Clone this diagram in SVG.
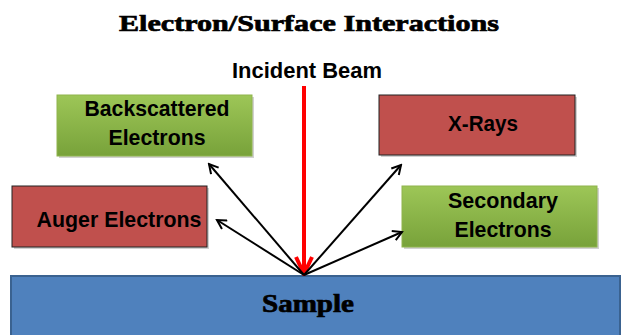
<svg xmlns="http://www.w3.org/2000/svg" width="621" height="335" viewBox="0 0 621 335">
<defs>
<linearGradient id="gGreen" x1="0" y1="0" x2="0" y2="1">
<stop offset="0" stop-color="#9dc657"/>
<stop offset="1" stop-color="#78a23a"/>
</linearGradient>
<marker id="arrBlack" viewBox="0 0 12 12" refX="10" refY="6" markerWidth="12" markerHeight="12" markerUnits="userSpaceOnUse" orient="auto">
<path d="M1,1 L10,6 L1,11" fill="none" stroke="#000" stroke-width="2"/>
</marker>
<marker id="arrRed" viewBox="0 0 20 20" refX="18" refY="10" markerWidth="20" markerHeight="20" markerUnits="userSpaceOnUse" orient="auto">
<path d="M1,2 L18,10 L1,18" fill="none" stroke="#ff0000" stroke-width="4" stroke-linejoin="miter"/>
</marker>
</defs>
<style>
.lbl{font-family:"Liberation Sans",Arial,sans-serif;font-weight:bold;font-size:22px;fill:#000;text-anchor:middle}
.ser{font-family:"Liberation Serif","Times New Roman",serif;font-weight:bold;fill:#000;stroke:#000;stroke-width:0.7;text-anchor:middle}
.green{fill:url(#gGreen);stroke:#8fb44d;stroke-width:1}
.red{fill:#c0504d;stroke:#222;stroke-width:1}
.shadow{fill:#000;opacity:0.18}
.conn{stroke:#000;stroke-width:2;fill:none;marker-end:url(#arrBlack)}
</style>
<rect width="621" height="335" fill="#fff"/>
<text class="ser" x="309" y="31" font-size="24" textLength="380" lengthAdjust="spacingAndGlyphs">Electron/Surface Interactions</text>
<text class="lbl" x="307" y="78" font-size="21" textLength="150" lengthAdjust="spacingAndGlyphs">Incident Beam</text>

<g id="sample">
<rect x="11" y="276" width="609" height="65" fill="#4f81bd" stroke="#3a6290" stroke-width="2"/>
<text class="ser" x="308" y="312" font-size="25" textLength="92" lengthAdjust="spacingAndGlyphs">Sample</text>
</g>

<g id="backscattered">
<rect class="shadow" x="59" y="97" width="195" height="61"/>
<rect class="green" x="57" y="95" width="195" height="61"/>
<text class="lbl" x="157" y="116" textLength="145" lengthAdjust="spacingAndGlyphs">Backscattered</text>
<text class="lbl" x="157" y="145" textLength="97" lengthAdjust="spacingAndGlyphs">Electrons</text>
</g>

<g id="auger">
<rect class="shadow" x="14" y="188" width="195" height="61"/>
<rect class="red" x="12" y="186" width="195" height="61"/>
<text class="lbl" x="119" y="227" textLength="165" lengthAdjust="spacingAndGlyphs">Auger Electrons</text>
</g>

<g id="xrays">
<rect class="shadow" x="381" y="97" width="196" height="60"/>
<rect class="red" x="379" y="95" width="196" height="60"/>
<text class="lbl" x="483" y="131" textLength="70" lengthAdjust="spacingAndGlyphs">X-Rays</text>
</g>

<g id="secondary">
<rect class="shadow" x="404" y="188" width="195" height="61"/>
<rect class="green" x="402" y="186" width="195" height="61"/>
<text class="lbl" x="503" y="208" textLength="110" lengthAdjust="spacingAndGlyphs">Secondary</text>
<text class="lbl" x="503" y="237" textLength="97" lengthAdjust="spacingAndGlyphs">Electrons</text>
</g>

<g id="connectors">
<line x1="304" y1="86" x2="304" y2="274" stroke="#ff0000" stroke-width="4" marker-end="url(#arrRed)"/>
<line class="conn" x1="304" y1="275" x2="209" y2="164"/>
<line class="conn" x1="304" y1="275" x2="217" y2="220"/>
<line class="conn" x1="304" y1="275" x2="401" y2="165"/>
<line class="conn" x1="304" y1="275" x2="402" y2="232"/>
</g>
</svg>
